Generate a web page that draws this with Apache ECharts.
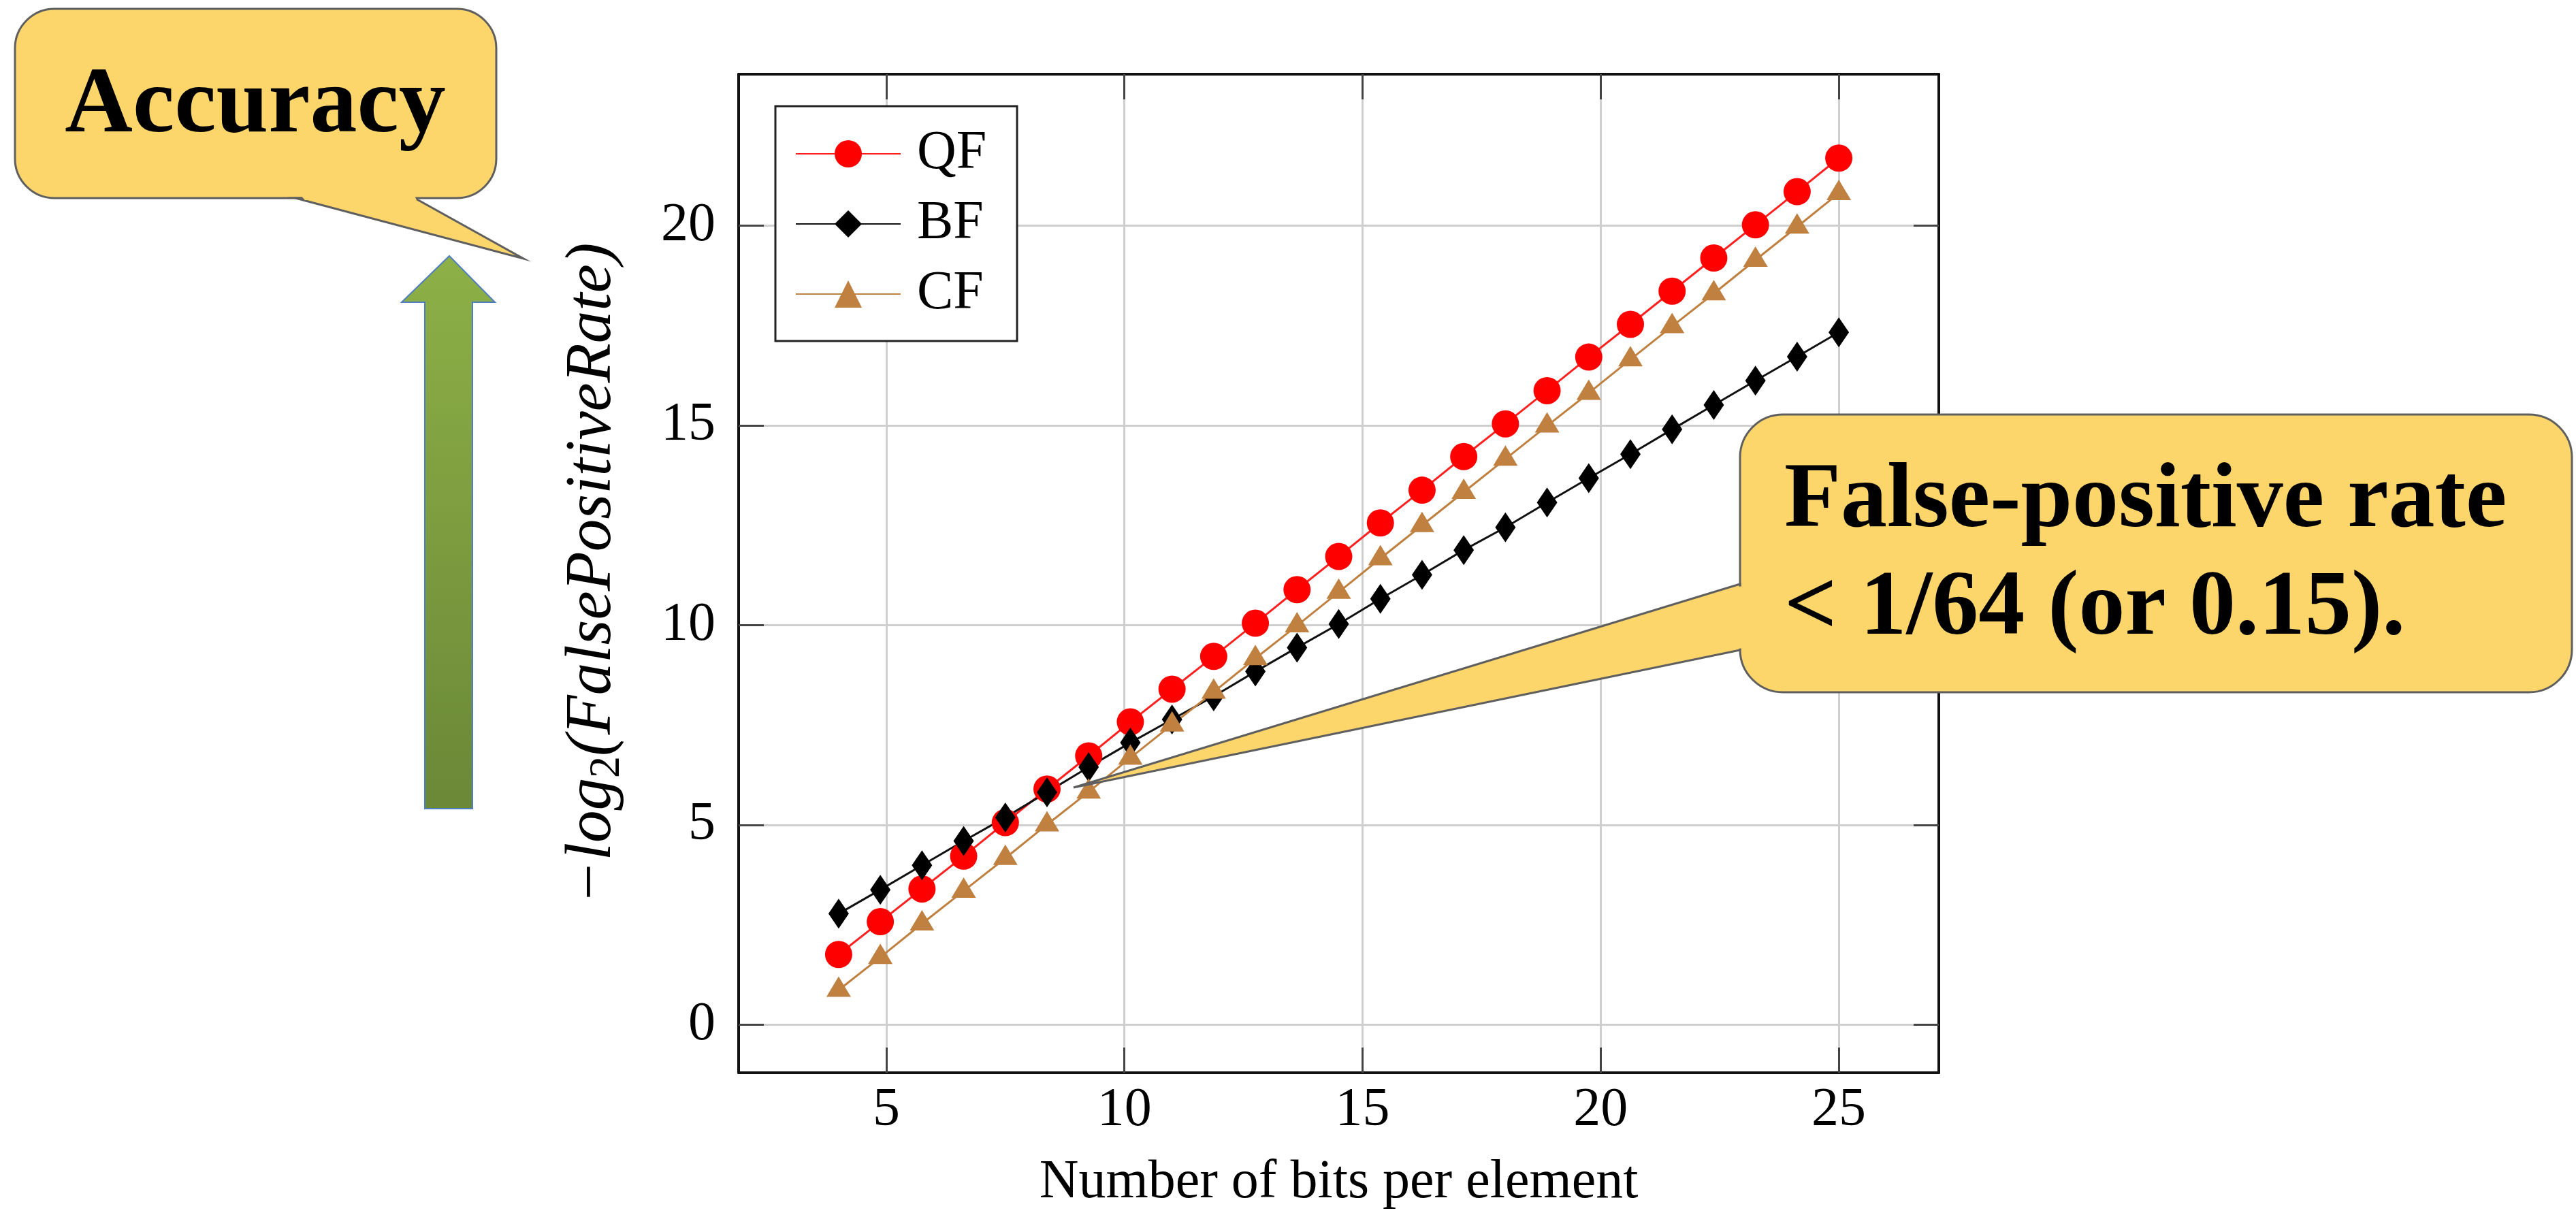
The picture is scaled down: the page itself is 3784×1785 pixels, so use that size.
<!DOCTYPE html>
<html>
<head>
<meta charset="utf-8">
<title>False positive rate vs bits per element</title>
<script src="https://cdn.jsdelivr.net/npm/echarts@6/dist/echarts.min.js"></script>
<style>
  html, body { margin: 0; padding: 0; background: #fff; }
  #chart { width: 3784px; height: 1785px; }
</style>
</head>
<body>
<div id="chart"></div>
<script>
// values
const bitsPerElement = [4, 4.875, 5.75, 6.625, 7.5, 8.375, 9.25, 10.125, 11, 11.875, 12.75, 13.625, 14.5,
  15.375, 16.25, 17.125, 18, 18.875, 19.75, 20.625, 21.5, 22.375, 23.25, 24.125, 25];
const qfValues = [1.76, 2.58, 3.4, 4.22, 5.06, 5.9, 6.73, 7.58, 8.4, 9.22, 10.05, 10.89, 11.72,
  12.56, 13.38, 14.22, 15.04, 15.87, 16.71, 17.53, 18.36, 19.19, 20.02, 20.85, 21.69];
const bfValues = [2.78, 3.38, 3.99, 4.6, 5.19, 5.82, 6.45, 7.06, 7.64, 8.22, 8.84, 9.44, 10.03,
  10.66, 11.26, 11.88, 12.45, 13.07, 13.68, 14.28, 14.9, 15.51, 16.12, 16.72, 17.33];
const cfValues = [0.87, 1.69, 2.53, 3.35, 4.17, 5.01, 5.83, 6.68, 7.51, 8.33, 9.17, 9.99, 10.83,
  11.67, 12.5, 13.33, 14.16, 14.99, 15.81, 16.65, 17.48, 18.3, 19.14, 19.97, 20.81];
const xTicks = [5, 10, 15, 20, 25];
const yTicks = [0, 5, 10, 15, 20];

const FONT = '"Liberation Serif", "Times New Roman", serif';
const YELLOW = "#fcd56b";
const EDGE = "#5f5f5f";

function pairs(values) {
  return values.map((v, i) => [bitsPerElement[i], v]);
}

function frameAxis(position, min, max, ticks, withLabels) {
  return {
    type: "value",
    position: position,
    min: min,
    max: max,
    axisLine: { show: true, onZero: false, lineStyle: { color: "#111", width: 4 } },
    axisTick: {
      show: true,
      inside: true,
      length: 37,
      customValues: ticks,
      lineStyle: { color: "#444", width: 3 },
    },
    axisLabel: withLabels
      ? {
          show: true,
          customValues: ticks,
          color: "#000",
          fontFamily: FONT,
          fontSize: 80,
          margin: position === "bottom" ? 16 : 34,
        }
      : { show: false },
    splitLine: withLabels
      ? { show: true, lineStyle: { color: "#cfcfcf", width: 3 } }
      : { show: false },
  };
}

const chart = echarts.init(document.getElementById("chart"));

const xBottom = frameAxis("bottom", 1.9, 27.1, xTicks, true);
xBottom.name = "Number of bits per element";
xBottom.nameLocation = "middle";
xBottom.nameGap = 122;
xBottom.nameTextStyle = { color: "#000", fontFamily: FONT, fontSize: 80 };

const yLeft = frameAxis("left", -1.2, 23.79, yTicks, true);
yLeft.name = "{it|\u2212log}{sub|2}{it|(FalsePositiveRate)}";
yLeft.nameLocation = "middle";
yLeft.nameRotate = 90;
yLeft.nameGap = 161;
yLeft.nameTextStyle = {
  color: "#000",
  fontFamily: FONT,
  rich: {
    it: { fontFamily: FONT, fontStyle: "italic", fontSize: 95, lineHeight: 106, color: "#000" },
    sub: { fontFamily: FONT, fontSize: 64, lineHeight: 64, verticalAlign: "bottom", color: "#000" },
  },
};

chart.setOption({
  animation: false,
  backgroundColor: "#fff",
  grid: { left: 1085, top: 109, width: 1763, height: 1467, outerBoundsMode: "none" },
  xAxis: [xBottom, frameAxis("top", 1.9, 27.1, xTicks, false)],
  yAxis: [yLeft, frameAxis("right", -1.2, 23.79, yTicks, false)],
  legend: {
    left: 1139,
    top: 156,
    orient: "vertical",
    padding: [30, 42, 29, 29],
    itemWidth: 154,
    itemHeight: 50,
    itemGap: 23,
    backgroundColor: "#fff",
    borderColor: "#222",
    borderWidth: 3,
    borderRadius: 0,
    textStyle: {
      color: "#000",
      fontFamily: FONT,
      fontSize: 80,
      width: 105,
      lineHeight: 80,
      padding: [0, 0, 0, 19],
    },
    data: ["QF", "BF", "CF"],
  },
  series: [
    {
      name: "QF",
      type: "line",
      data: pairs(qfValues),
      symbol: "circle",
      symbolSize: 40,
      color: "#ff0000",
      lineStyle: { color: "#ff2020", width: 3 },
      itemStyle: { color: "#ff0000", borderWidth: 0 },
    },
    {
      name: "BF",
      type: "line",
      data: pairs(bfValues),
      symbol: "diamond",
      symbolSize: [30, 44],
      color: "#000000",
      lineStyle: { color: "#111", width: 3 },
      itemStyle: { color: "#000", borderWidth: 0 },
    },
    {
      name: "CF",
      type: "line",
      data: pairs(cfValues),
      symbol: "triangle",
      symbolSize: [36, 30],
      symbolOffset: [0, -5],
      color: "#bf8040",
      lineStyle: { color: "#bf8040", width: 3 },
      itemStyle: { color: "#bf8040", borderWidth: 0 },
    },
  ],
  graphic: [
    // "Accuracy" callout
    {
      type: "rect", z: 100,
      shape: { x: 22, y: 13, width: 707, height: 278, r: 58 },
      style: { fill: YELLOW, stroke: EDGE, lineWidth: 3 },
    },
    {
      type: "polygon", z: 101,
      shape: { points: [[434, 291], [769, 380], [609, 291]] },
      style: { fill: YELLOW, stroke: EDGE, lineWidth: 3 },
    },
    {
      type: "polygon", z: 102,
      shape: { points: [[437, 282], [606, 282], [612, 294], [448, 294]] },
      style: { fill: YELLOW },
    },
    {
      type: "text", z: 103,
      style: {
        x: 375, y: 157, text: "Accuracy",
        fontFamily: FONT, fontWeight: "bold", fontSize: 138, fill: "#000",
        align: "center", verticalAlign: "middle", textAlign: "center", textVerticalAlign: "middle",
      },
    },
    // green arrow
    {
      type: "polygon", z: 100,
      shape: { points: [[660, 376], [727, 444], [694, 444], [694, 1188], [624, 1188], [624, 444], [590, 444]] },
      style: {
        fill: {
          type: "linear", x: 0, y: 0, x2: 0, y2: 1,
          colorStops: [
            { offset: 0, color: "#8db047" },
            { offset: 0.5, color: "#7d9c3f" },
            { offset: 1, color: "#6a8837" },
          ],
        },
        stroke: "#4f7fbf",
        lineWidth: 2,
      },
    },
    // "False-positive rate" callout
    {
      type: "rect", z: 100,
      shape: { x: 2556, y: 609, width: 1222, height: 408, r: 63 },
      style: { fill: YELLOW, stroke: EDGE, lineWidth: 3 },
    },
    {
      type: "polygon", z: 101,
      shape: { points: [[2556, 858], [1577, 1157], [2556, 955]] },
      style: { fill: YELLOW, stroke: EDGE, lineWidth: 3 },
    },
    {
      type: "polygon", z: 102,
      shape: { points: [[2566, 861], [2566, 952], [2550, 953], [2550, 862]] },
      style: { fill: YELLOW },
    },
    {
      type: "text", z: 103,
      style: {
        x: 2621, y: 738, text: "False-positive rate",
        fontFamily: FONT, fontWeight: "bold", fontSize: 136, fill: "#000",
        align: "left", verticalAlign: "middle", textAlign: "left", textVerticalAlign: "middle",
      },
    },
    {
      type: "text", z: 103,
      style: {
        x: 2621, y: 896, text: "< 1/64 (or 0.15).",
        fontFamily: FONT, fontWeight: "bold", fontSize: 136, fill: "#000",
        align: "left", verticalAlign: "middle", textAlign: "left", textVerticalAlign: "middle",
      },
    },
  ],
});

window.addEventListener("resize", () => chart.resize());
</script>
</body>
</html>
